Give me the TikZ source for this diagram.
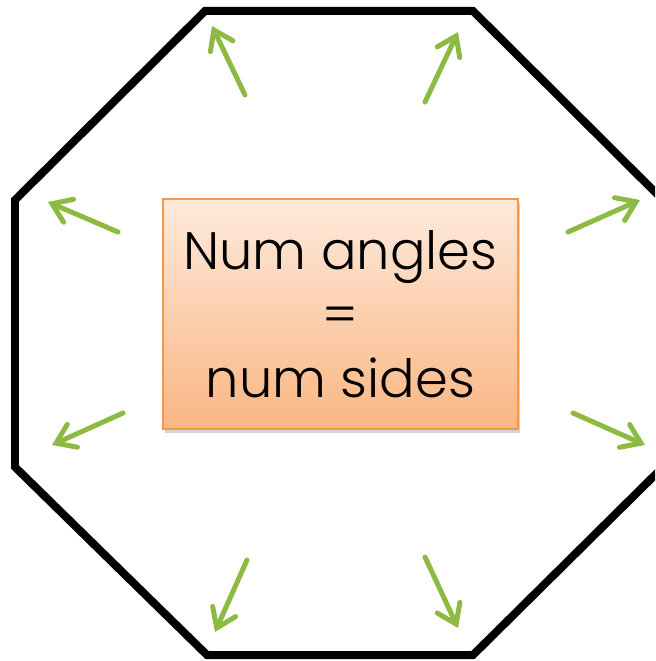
\documentclass[tikz,border=0pt]{standalone}
\usepackage{fontspec}
\setmainfont{Poppins}[UprightFont=* Light]
\usepackage{tikz}
\usetikzlibrary{arrows.meta, shadows}
\definecolor{boxedge}{RGB}{247,150,70}
\definecolor{boxtop}{RGB}{253,234,220}
\definecolor{boxbottom}{RGB}{250,182,130}
\definecolor{arrowgreen}{RGB}{141,186,66}
\tikzstyle{outline} = [draw=black, line width=0.16cm, line join=miter]
\tikzstyle{infobox} = [rectangle, minimum width=7.1cm, minimum height=4.6cm, draw=boxedge, line width=0.7pt, top color=boxtop, bottom color=boxbottom, align=center, drop shadow={opacity=0.35, shadow xshift=0.04cm, shadow yshift=-0.08cm}, font=\fontsize{30}{36.4}\selectfont]
\tikzstyle{arrow} = [arrowgreen, line width=0.1cm, line cap=round, -{Straight Barb[length=0.36cm, width=0.5cm, line cap=round]}]

\begin{document}
\begin{tikzpicture}[x=0.02cm, y=-0.02cm]

\useasboundingbox (0,0) rectangle (655,661);
\clip (0,0) rectangle (655,661);

% the octagon
\draw [outline] (205,11) -- (473,11) -- (663,200) -- (663,467) -- (473,655) -- (207,655) -- (15,467) -- (15,200) -- cycle;

\node (rule) [infobox] at (340.5,314) {Num angles\\=\\num sides};

% arrows to the corners
\foreach \name/\tx/\ty/\hx/\hy in {tl/245/95/212/26, tr/425/102/458/32, lu/118/232/48/202, ru/568/232/640/200, ll/123/413/52/445, rl/573/413/645/445, bl/247/560/215/632, br/425/557/458/628}
{
  \coordinate (\name-tail) at (\tx,\ty);
  \coordinate (\name-head) at (\hx,\hy);
  \draw [arrow] (\name-tail) -- (\name-head);
}

\end{tikzpicture}
\end{document}
